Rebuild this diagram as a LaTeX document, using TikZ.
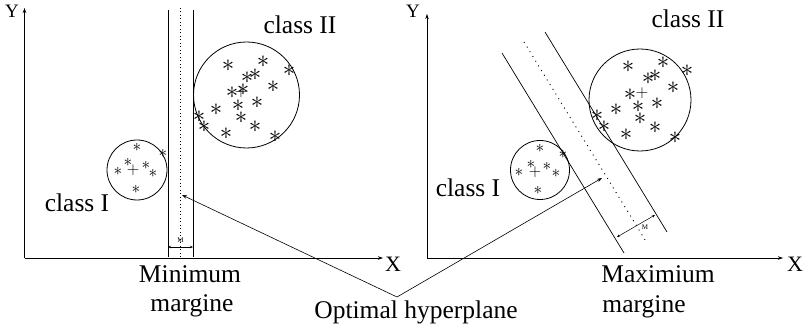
\documentclass[tikz,border=0pt]{standalone}
\usepackage{fontspec}
\setmainfont{Liberation Serif}
\usetikzlibrary{arrows.meta}

\begin{document}
\begin{tikzpicture}[x=1pt, y=-1pt,
    axis/.style={-{Stealth[length=5pt,width=3.5pt]}, line width=0.7pt},
    bound/.style={line width=0.7pt},
    hyp/.style={line width=0.9pt, dash pattern=on 1pt off 2.5pt},
    cls/.style={draw, circle, line width=0.8pt, inner sep=0pt},
    lbl/.style={font=\fontsize{25.5}{29}\selectfont, inner sep=0pt, anchor=base},
    xlbl/.style={font=\fontsize{22}{22}\selectfont, inner sep=0pt, anchor=base},
    ylbl/.style={font=\fontsize{19}{19}\selectfont, inner sep=0pt, anchor=base},
    pt/.style={inner sep=0pt, font=\fontsize{23}{23}\selectfont},
    spt/.style={inner sep=0pt, font=\fontsize{16}{16}\selectfont},
    ctr/.style={inner sep=0pt, font=\fontsize{17}{17}\selectfont},
    arr/.style={-{Stealth[length=5pt,width=3.5pt]}, line width=0.6pt},
    marg/.style={{Stealth[length=3pt,width=2.5pt]}-{Stealth[length=3pt,width=2.5pt]}, line width=0.5pt},
    mlbl/.style={font=\fontsize{7}{7}\selectfont, inner sep=0.5pt}
]
\useasboundingbox (0,0) rectangle (810,328);

% left panel: minimum margin
\coordinate (oL) at (24.5,258);
\coordinate (xL) at (383,258);
\coordinate (yL) at (24.5,8);
\draw[axis] (oL) -- (xL);
\draw[axis] (oL) -- (yL);
\node[xlbl] (XL) at (393,272) {X};
\node[ylbl] (YL) at (12,18) {Y};

\coordinate (b1t) at (168,10);  \coordinate (b1b) at (168,257);
\coordinate (b2t) at (193,10);  \coordinate (b2b) at (193,257);
\coordinate (h0t) at (180.5,8); \coordinate (h0b) at (180.5,258);
\draw[bound] (b1t) -- (b1b);
\draw[bound] (b2t) -- (b2b);
\draw[hyp] (h0t) -- (h0b);
\coordinate (m1a) at (168,247); \coordinate (m1b) at (193,247);
\draw[marg] (m1a) -- (m1b);
\node[mlbl] (ML) at (180.5,240) {M};

\node[cls, minimum size=60pt] (c1L) at (137,170) {};
\node[cls, minimum size=106pt] (c2L) at (246.5,95) {};
\node[ctr] (p1L) at (133,170) {$+$};
\node[ctr] (p2L) at (241,92) {$+$};
\foreach \x/\y in {137/147, 128/162, 118/171, 146/165, 153/173, 136/189, 163/153}
  \node[spt] at (\x,\y) {$\ast$};
\foreach \x/\y in {228/66, 263/62, 289/71, 247/78, 255/75, 273/87, 232/93, 243/90,
                   257/103, 238/106, 216/110, 199/117, 204/127, 241/118, 255/127,
                   226/134, 275/137}
  \node[pt] at (\x,\y) {$\ast$};

\node[lbl] (c1Ltxt) at (77,212) {class I};
\node[lbl] (c2Ltxt) at (300,34) {class II};
\node[lbl] (minL) at (190,283) {Minimum};
\node[lbl] (minL2) at (192,311) {margine};

% right panel: maximum margin
\coordinate (oR) at (427,258);
\coordinate (xR) at (783,258);
\coordinate (yR) at (427,14);
\draw[axis] (oR) -- (xR);
\draw[axis] (oR) -- (yR);
\node[xlbl] (XR) at (795,272) {X};
\node[ylbl] (YR) at (413,18) {Y};

\coordinate (s1t) at (502,53);  \coordinate (s1b) at (624,253);
\coordinate (s2t) at (545,32);  \coordinate (s2b) at (667,232);
\coordinate (h1t) at (524,42);  \coordinate (h1b) at (647,243);
\draw[bound] (s1t) -- (s1b);
\draw[bound] (s2t) -- (s2b);
\draw[hyp, dash pattern=on 1pt off 4.5pt] (h1t) -- (h1b);
\coordinate (m2a) at (617,237); \coordinate (m2b) at (655,215);
\draw[marg] (m2a) -- (m2b);
\node[mlbl] (MR) at (645,227) {M};

\node[cls, minimum size=59pt] (c1R) at (540,170) {};
\node[cls, minimum size=102pt] (c2R) at (640,100) {};
\node[ctr] (p1R) at (535,172) {$+$};
\node[ctr] (p2R) at (642,93) {$+$};
\foreach \x/\y in {540/148, 531/164, 519/172, 547/166, 556/173, 538/190, 563/154}
  \node[spt] at (\x,\y) {$\ast$};
\foreach \x/\y in {628/67, 663/63, 687/71, 648/79, 655/76, 673/88, 630/95, 638/107,
                   657/104, 616/110, 597/116, 604/127, 640/119, 655/128, 626/135, 675/138}
  \node[pt] at (\x,\y) {$\ast$};

\node[lbl] (c1Rtxt) at (468,197) {class I};
\node[lbl] (c2Rtxt) at (688,28) {class II};
\node[lbl] (maxR) at (658,283) {Maximium};
\node[lbl] (maxR2) at (644,312) {margine};

% shared label
\node[lbl] (opt) at (416,318) {Optimal hyperplane};
\coordinate (apex) at (397,297);
\coordinate (tipL) at (182,195);
\coordinate (tipR) at (602,178);
\draw[arr] (apex) -- (tipL);
\draw[arr] (apex) -- (tipR);
\end{tikzpicture}
\end{document}
